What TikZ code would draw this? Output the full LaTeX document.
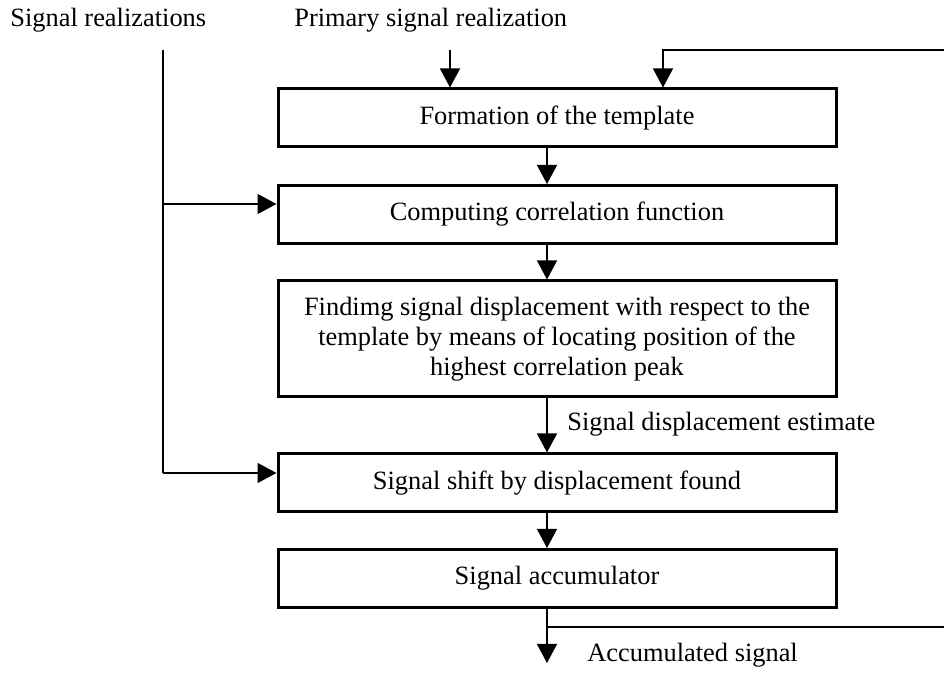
\documentclass[tikz,border=0pt]{standalone}
\usepackage{fontspec}
\setmainfont{Liberation Serif}
\usetikzlibrary{arrows.meta}
\begin{document}
\begin{tikzpicture}[x=0.5pt,y=-0.5pt,
  box/.style={draw, line width=1.5pt, minimum width=279pt, minimum height=29pt, inner sep=0pt, align=center, font=\fontsize{13.2pt}{15pt}\selectfont},
  lbl/.style={inner sep=0pt, anchor=west, font=\fontsize{13.2pt}{15pt}\selectfont},
  conn/.style={line width=0.65pt},
  arr/.style={conn, -{Triangle[length=9.5pt,width=10pt]}}]
\useasboundingbox (0,0) rectangle (944,673);
% boxes
\node[box] (b1) at (557,118) {Formation of the template};
\node[box] (b2) at (557,214.5) {Computing correlation function};
\node[box, minimum height=58pt] (b3) at (557,339) {Findimg signal displacement with respect to the\\ template by means of locating position of the\\ highest correlation peak};
\node[box] (b4) at (557,483) {Signal shift by displacement found};
\node[box] (b5) at (557,578.5) {Signal accumulator};
% labels
\node[lbl] (tsr) at (10,20) {Signal realizations};
\node[lbl] (tps) at (294,20) {Primary signal realization};
\node[lbl] (tde) at (567,424) {Signal displacement estimate};
\node[lbl] (tac) at (587,655) {Accumulated signal};
% free ends
\coordinate (sr) at (163,50);
\coordinate (j1) at (163,204);
\coordinate (j2) at (163,473);
\coordinate (ps) at (450,50);
\coordinate (fbr) at (944,50);
\coordinate (fbl) at (663,50);
\coordinate (out) at (547,663);
\coordinate (fbo) at (944,627);
% connectors
\draw[conn] (sr) -- (j2);
\draw[arr] (j1) -- (j1 -| b2.west);
\draw[arr] (j2) -- (j2 -| b4.west);
\draw[arr] (ps) -- (ps |- b1.north);
\draw[arr] (fbr) -- (fbl) -- (fbl |- b1.north);
\draw[arr] ([xshift=-5pt]b1.south) -- ([xshift=-5pt]b2.north);
\draw[arr] ([xshift=-5pt]b2.south) -- ([xshift=-5pt]b3.north);
\draw[arr] ([xshift=-5pt]b3.south) -- ([xshift=-5pt]b4.north);
\draw[arr] ([xshift=-5pt]b4.south) -- ([xshift=-5pt]b5.north);
\draw[arr] ([xshift=-5pt]b5.south) -- (out);
\draw[conn] (out |- fbo) -- (fbo);
\end{tikzpicture}
\end{document}
